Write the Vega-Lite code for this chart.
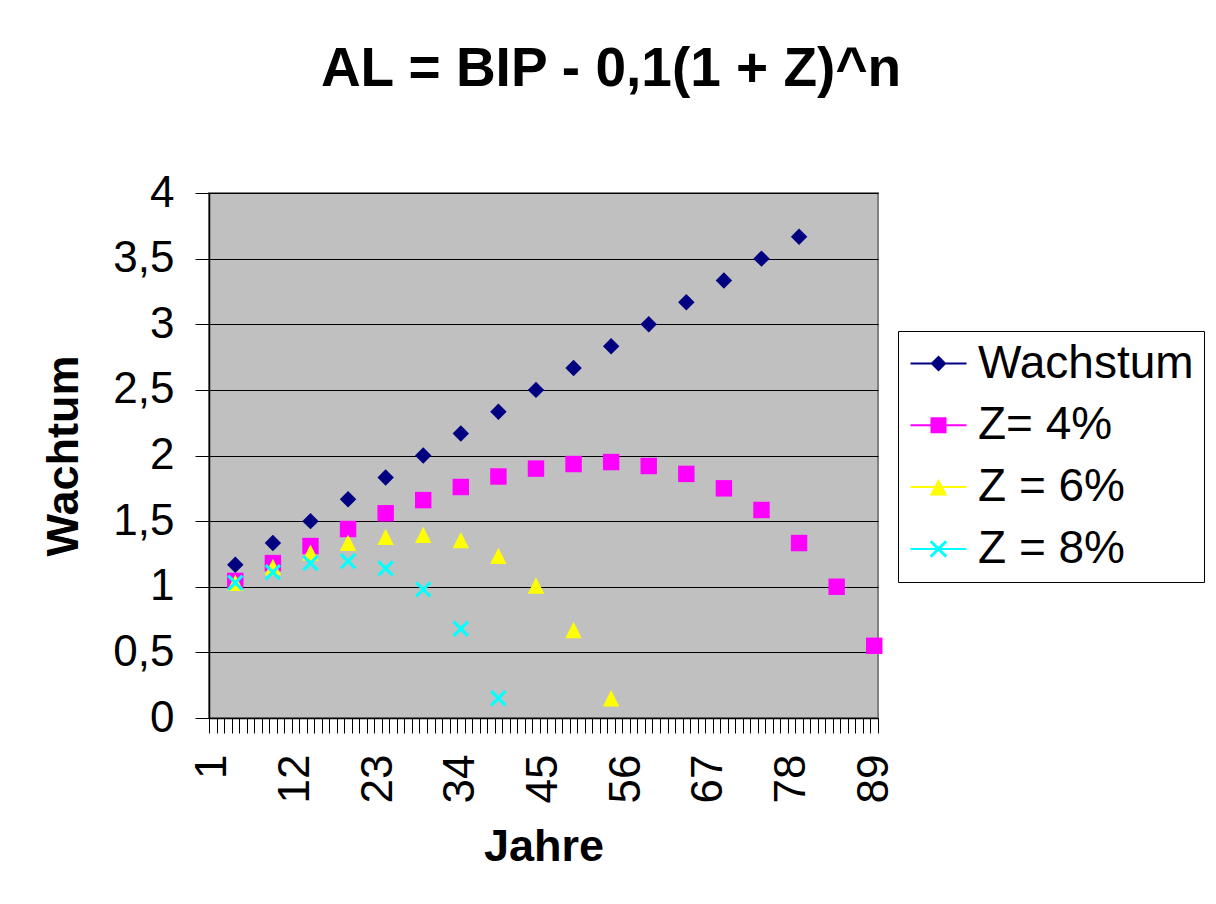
{
  "$schema": "https://vega.github.io/schema/vega-lite/v6.json",
  "width": 669,
  "height": 525,
  "autosize": {"type": "none"},
  "padding": {"left": 209, "top": 193, "right": 338, "bottom": 186},
  "background": "white",
  "view": {"fill": "#C0C0C0", "fillOpacity": 1, "stroke": "#808080", "strokeWidth": 2},
  "title": {
    "text": "AL = BIP - 0,1(1 + Z)^n",
    "font": "Liberation Sans",
    "fontSize": 55,
    "fontWeight": "bold",
    "color": "#000000",
    "anchor": "middle",
    "frame": "group",
    "dx": 67.5,
    "offset": 30,
    "baseline": "alphabetic"
  },
  "data": {
    "values": [
      {"series": "Wachstum", "year": 4, "value": 1.167},
      {"series": "Wachstum", "year": 9, "value": 1.333},
      {"series": "Wachstum", "year": 14, "value": 1.5},
      {"series": "Wachstum", "year": 19, "value": 1.667},
      {"series": "Wachstum", "year": 24, "value": 1.833},
      {"series": "Wachstum", "year": 29, "value": 2.0},
      {"series": "Wachstum", "year": 34, "value": 2.167},
      {"series": "Wachstum", "year": 39, "value": 2.333},
      {"series": "Wachstum", "year": 44, "value": 2.5},
      {"series": "Wachstum", "year": 49, "value": 2.667},
      {"series": "Wachstum", "year": 54, "value": 2.833},
      {"series": "Wachstum", "year": 59, "value": 3.0},
      {"series": "Wachstum", "year": 64, "value": 3.167},
      {"series": "Wachstum", "year": 69, "value": 3.333},
      {"series": "Wachstum", "year": 74, "value": 3.5},
      {"series": "Wachstum", "year": 79, "value": 3.667},
      {"series": "Z= 4%", "year": 4, "value": 1.044},
      {"series": "Z= 4%", "year": 9, "value": 1.18},
      {"series": "Z= 4%", "year": 14, "value": 1.31},
      {"series": "Z= 4%", "year": 19, "value": 1.44},
      {"series": "Z= 4%", "year": 24, "value": 1.56},
      {"series": "Z= 4%", "year": 29, "value": 1.66},
      {"series": "Z= 4%", "year": 34, "value": 1.76},
      {"series": "Z= 4%", "year": 39, "value": 1.84},
      {"series": "Z= 4%", "year": 44, "value": 1.9},
      {"series": "Z= 4%", "year": 49, "value": 1.935},
      {"series": "Z= 4%", "year": 54, "value": 1.95},
      {"series": "Z= 4%", "year": 59, "value": 1.92},
      {"series": "Z= 4%", "year": 64, "value": 1.86},
      {"series": "Z= 4%", "year": 69, "value": 1.75},
      {"series": "Z= 4%", "year": 74, "value": 1.585},
      {"series": "Z= 4%", "year": 79, "value": 1.333},
      {"series": "Z= 4%", "year": 84, "value": 1.0},
      {"series": "Z= 4%", "year": 89, "value": 0.55},
      {"series": "Z = 6%", "year": 4, "value": 1.03},
      {"series": "Z = 6%", "year": 9, "value": 1.15},
      {"series": "Z = 6%", "year": 14, "value": 1.26},
      {"series": "Z = 6%", "year": 19, "value": 1.335},
      {"series": "Z = 6%", "year": 24, "value": 1.38},
      {"series": "Z = 6%", "year": 29, "value": 1.395},
      {"series": "Z = 6%", "year": 34, "value": 1.355},
      {"series": "Z = 6%", "year": 39, "value": 1.235},
      {"series": "Z = 6%", "year": 44, "value": 1.01},
      {"series": "Z = 6%", "year": 49, "value": 0.67},
      {"series": "Z = 6%", "year": 54, "value": 0.15},
      {"series": "Z = 8%", "year": 4, "value": 1.03},
      {"series": "Z = 8%", "year": 9, "value": 1.11},
      {"series": "Z = 8%", "year": 14, "value": 1.18},
      {"series": "Z = 8%", "year": 19, "value": 1.195},
      {"series": "Z = 8%", "year": 24, "value": 1.14},
      {"series": "Z = 8%", "year": 29, "value": 0.98},
      {"series": "Z = 8%", "year": 34, "value": 0.68},
      {"series": "Z = 8%", "year": 39, "value": 0.15}
    ]
  },
  "layer": [
    {
      "mark": {"type": "point", "filled": true, "opacity": 1, "strokeWidth": 0, "size": 270},
      "encoding": {
        "x": {
          "field": "year",
          "type": "ordinal",
          "scale": {
            "domain": [1,2,3,4,5,6,7,8,9,10,11,12,13,14,15,16,17,18,19,20,21,22,23,24,25,26,27,28,29,30,31,32,33,34,35,36,37,38,39,40,41,42,43,44,45,46,47,48,49,50,51,52,53,54,55,56,57,58,59,60,61,62,63,64,65,66,67,68,69,70,71,72,73,74,75,76,77,78,79,80,81,82,83,84,85,86,87,88,89],
            "paddingInner": 0,
            "paddingOuter": 0
          },
          "axis": {
            "title": "Jahre",
            "titleFont": "Liberation Sans",
            "titleFontSize": 45,
            "titleFontWeight": "bold",
            "titleColor": "#000000",
            "titlePadding": 22,
            "labelFont": "Liberation Sans",
            "labelFontSize": 44,
            "labelColor": "#000000",
            "labelAngle": 270,
            "labelPadding": 21,
            "labelOverlap": false,
            "labelExpr": "(datum.value - 1) % 11 === 0 ? datum.label : ''",
            "tickBand": "extent",
            "tickSize": 15,
            "tickColor": "#000000",
            "tickWidth": 1,
            "domainColor": "#000000",
            "domainWidth": 1.5,
            "grid": false
          }
        },
        "y": {
          "field": "value",
          "type": "quantitative",
          "scale": {"domain": [0, 4], "nice": false},
          "axis": {
            "title": "Wachtum",
            "titleFont": "Liberation Sans",
            "titleFontSize": 45,
            "titleFontWeight": "bold",
            "titleColor": "#000000",
            "titlePadding": 26,
            "values": [0, 0.5, 1, 1.5, 2, 2.5, 3, 3.5, 4],
            "format": ".1~f",
            "labelExpr": "replace(datum.label, '.', ',')",
            "labelFont": "Liberation Sans",
            "labelFontSize": 44,
            "labelColor": "#000000",
            "labelPadding": 21,
            "tickSize": 14,
            "tickColor": "#000000",
            "tickWidth": 1,
            "domainColor": "#000000",
            "domainWidth": 1.5,
            "grid": true,
            "gridColor": "#000000",
            "gridOpacity": 1,
            "gridWidth": 1
          }
        },
        "color": {
          "field": "series",
          "type": "nominal",
          "scale": {
            "domain": ["Wachstum", "Z= 4%", "Z = 6%", "Z = 8%"],
            "range": ["#000080", "#FF00FF", "#FFFF00", "#00FFFF"]
          },
          "legend": null
        },
        "shape": {
          "field": "series",
          "type": "nominal",
          "scale": {
            "domain": ["Wachstum", "Z= 4%", "Z = 6%", "Z = 8%"],
            "range": [
              "diamond",
              "square",
              "M0,-1L1,1L-1,1Z",
              "M-1,-0.73L-0.73,-1L0,-0.27L0.73,-1L1,-0.73L0.27,0L1,0.73L0.73,1L0,0.27L-0.73,1L-1,0.73L-0.27,0Z"
            ]
          },
          "legend": null
        }
      }
    },
    {
      "transform": [{"filter": "false"}],
      "mark": {"type": "point", "filled": true, "opacity": 1, "strokeWidth": 0},
      "encoding": {
        "color": {
          "field": "series",
          "type": "nominal",
          "scale": {
            "domain": ["Wachstum", "Z= 4%", "Z = 6%", "Z = 8%"],
            "range": ["#000080", "#FF00FF", "#FFFF00", "#00FFFF"]
          },
          "legend": {
            "title": null,
            "orient": "none",
            "legendX": 689,
            "legendY": 138,
            "symbolSize": 2025,
            "symbolStrokeWidth": 0,
            "labelFont": "Liberation Sans",
            "labelFontSize": 46,
            "labelColor": "#000000",
            "labelLimit": 400,
            "labelOffset": 24.5,
            "padding": 9.5,
            "rowPadding": 15.8,
            "strokeColor": "#000000",
            "fillColor": "#FFFFFF"
          }
        },
        "shape": {
          "field": "series",
          "type": "nominal",
          "scale": {
            "domain": ["Wachstum", "Z= 4%", "Z = 6%", "Z = 8%"],
            "range": [
              "M-0.889,-0.044H1.6V0.044H-0.889Z M0.356,-0.356L0.712,0L0.356,0.356L0,0Z",
              "M-0.889,-0.044H1.6V0.044H-0.889Z M0,-0.356H0.712V0.356H0Z",
              "M-0.889,-0.044H1.6V0.044H-0.889Z M0.356,-0.37L0.746,0.37L-0.034,0.37Z",
              "M-0.889,-0.044H1.6V0.044H-0.889Z M-0.034,-0.296L0.05,-0.39L0.356,-0.094L0.652,-0.39L0.746,-0.296L0.45,0L0.746,0.296L0.652,0.39L0.356,0.094L0.05,0.39L-0.034,0.296L0.262,0Z"
            ]
          },
          "legend": {
            "title": null,
            "orient": "none",
            "legendX": 689,
            "legendY": 138,
            "symbolSize": 2025,
            "symbolStrokeWidth": 0,
            "labelFont": "Liberation Sans",
            "labelFontSize": 46,
            "labelColor": "#000000",
            "labelLimit": 400,
            "labelOffset": 24.5,
            "padding": 9.5,
            "rowPadding": 15.8,
            "strokeColor": "#000000",
            "fillColor": "#FFFFFF"
          }
        }
      }
    }
  ],
  "resolve": {
    "scale": {"color": "independent", "shape": "independent"}
  },
  "config": {
    "font": "Liberation Sans",
    "view": {"fill": "#C0C0C0", "stroke": "#808080", "strokeWidth": 2}
  }
}
